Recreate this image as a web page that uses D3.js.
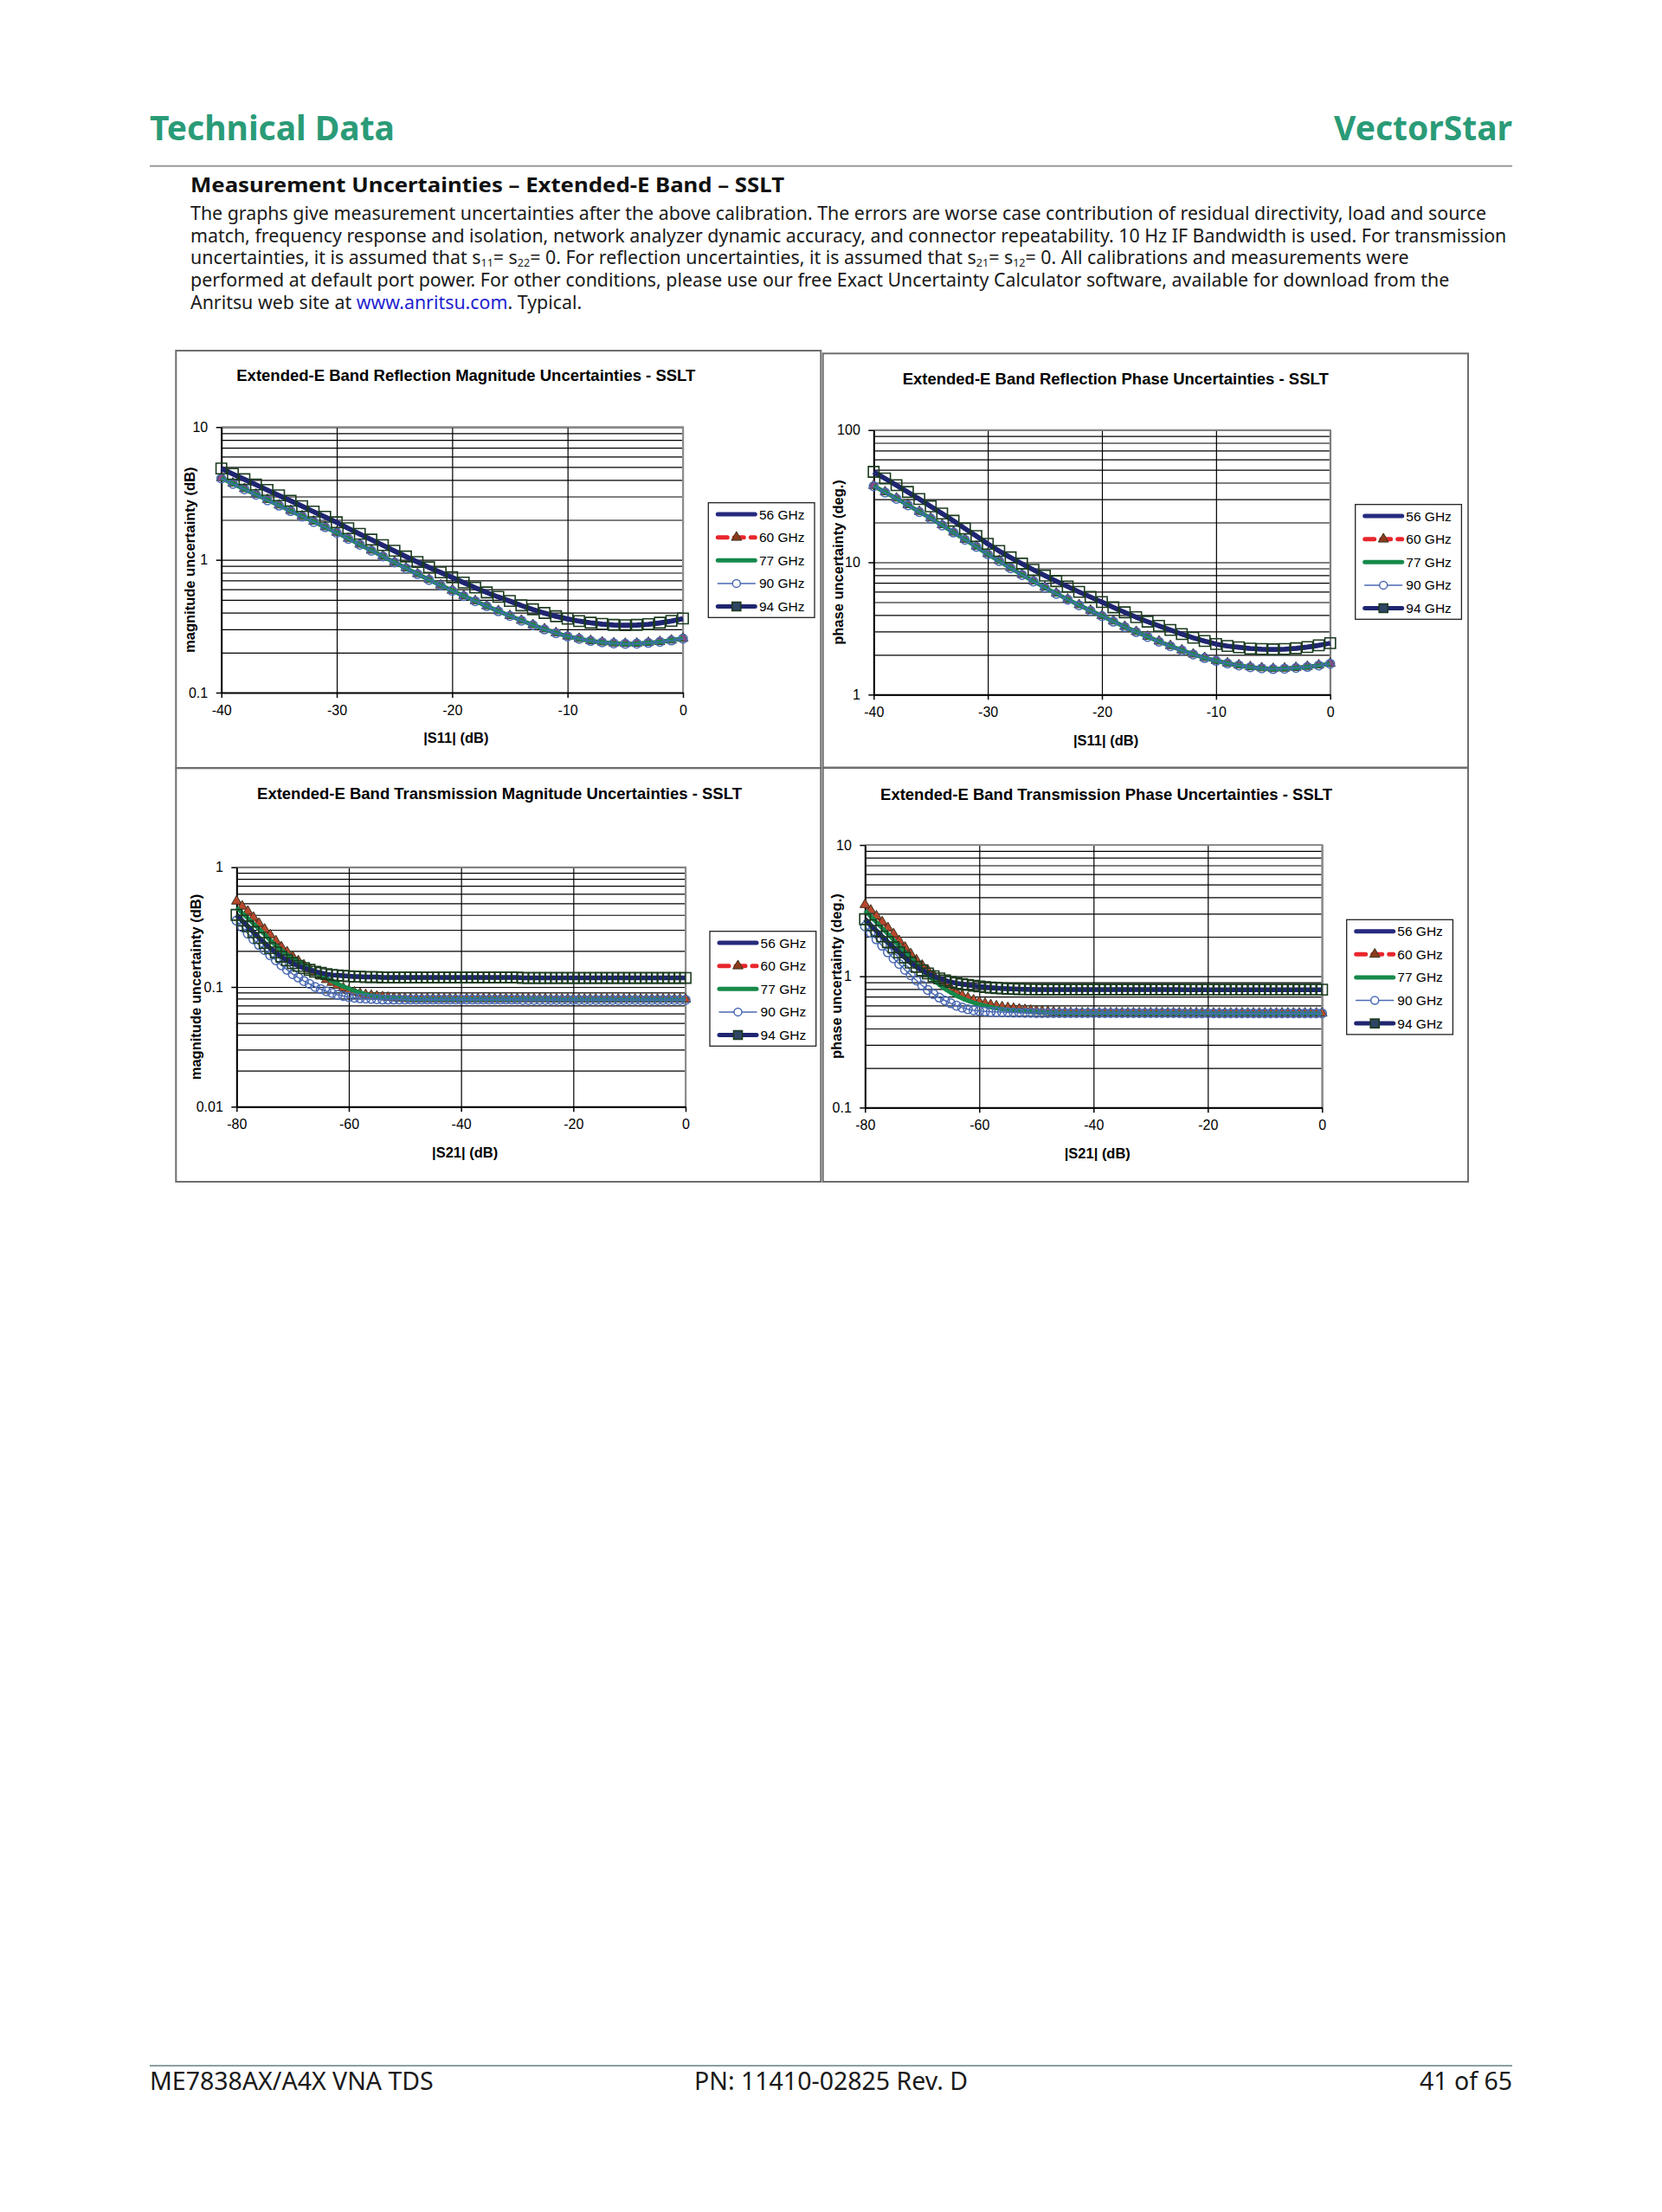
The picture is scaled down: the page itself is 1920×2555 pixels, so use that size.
<!DOCTYPE html>
<html>
<head>
<meta charset="utf-8">
<script src="https://cdn.jsdelivr.net/npm/d3@7"></script>
<style>
  body { margin: 0; background: #fff; }
  svg { display: block; }
</style>
</head>
<body>
<div id="main"></div>
<script>
// ---- data ----
const seriesNames = ["56 GHz", "60 GHz", "77 GHz", "90 GHz", "94 GHz"];

const xRefl = [-40,-39,-38,-37,-36,-35,-34,-33,-32,-31,-30,-29,-28,-27,-26,-25,-24,-23,-22,-21,
  -20,-19,-18,-17,-16,-15,-14,-13,-12,-11,-10,-9,-8,-7,-6,-5,-4,-3,-2,-1,0];

const xTrans = [-80,-79,-78,-77,-76,-75,-74,-73,-72,-71,-70,-69,-68,-67,-66,-65,-64,-63,-62,-61,
  -60,-59,-58,-57,-56,-55,-54,-53,-52,-51,-50,-49,-48,-47,-46,-45,-44,-43,-42,-41,
  -40,-39,-38,-37,-36,-35,-34,-33,-32,-31,-30,-29,-28,-27,-26,-25,-24,-23,-22,-21,
  -20,-19,-18,-17,-16,-15,-14,-13,-12,-11,-10,-9,-8,-7,-6,-5,-4,-3,-2,-1,0];

const xTicksRefl = [-40, -30, -20, -10, 0];
const xTicksTrans = [-80, -60, -40, -20, 0];

// reflection magnitude (dB)
const reflMag56 = [4.80,4.37,3.98,3.63,3.31,3.01,2.74,2.50,2.27,2.07,1.89,1.70,1.54,1.40,1.27,1.15,1.04,0.947,0.864,0.791,
  0.727,0.664,0.608,0.560,0.518,0.482,0.447,0.418,0.392,0.370,0.354,0.341,0.331,0.324,0.319,0.317,0.318,0.322,0.330,0.341,0.356];
const reflMag60 = [4.15,3.77,3.43,3.12,2.84,2.58,2.35,2.14,1.95,1.77,1.61,1.45,1.31,1.18,1.07,0.962,0.869,0.785,0.711,0.645,
  0.589,0.537,0.491,0.450,0.413,0.380,0.350,0.324,0.301,0.282,0.266,0.255,0.246,0.240,0.236,0.234,0.235,0.238,0.242,0.248,0.256];
const reflMag77 = [4.12,3.75,3.41,3.10,2.82,2.57,2.34,2.13,1.94,1.76,1.60,1.45,1.30,1.18,1.06,0.958,0.866,0.782,0.708,0.643,
  0.587,0.535,0.489,0.448,0.411,0.379,0.349,0.323,0.300,0.281,0.265,0.254,0.245,0.239,0.235,0.233,0.234,0.237,0.241,0.248,0.256];
const reflMag90 = [4.10,3.73,3.40,3.09,2.81,2.56,2.33,2.12,1.93,1.76,1.60,1.44,1.30,1.17,1.06,0.955,0.863,0.780,0.706,0.641,
  0.585,0.533,0.488,0.447,0.410,0.378,0.348,0.322,0.299,0.280,0.265,0.254,0.245,0.239,0.235,0.233,0.234,0.237,0.241,0.247,0.255];
const reflMag94 = [4.88,4.44,4.05,3.69,3.36,3.06,2.79,2.54,2.31,2.11,1.92,1.73,1.57,1.42,1.29,1.17,1.06,0.964,0.879,0.805,
  0.740,0.675,0.618,0.569,0.526,0.490,0.454,0.424,0.398,0.376,0.360,0.346,0.336,0.329,0.324,0.322,0.324,0.328,0.336,0.347,0.362];

// reflection phase (deg.)
const reflPh56 = [47.5,42.4,37.7,33.5,29.7,26.1,23.1,20.3,17.8,15.6,13.6,12.0,10.7,9.64,8.68,7.84,7.12,6.48,5.91,5.41,
  4.95,4.52,4.14,3.81,3.52,3.27,3.05,2.84,2.66,2.51,2.39,2.31,2.25,2.21,2.18,2.17,2.18,2.21,2.26,2.33,2.42];
const reflPh60 = [38.0,34.0,30.5,27.2,24.2,21.6,19.2,16.9,14.9,13.2,11.6,10.3,9.10,8.09,7.22,6.48,5.83,5.26,4.77,4.33,
  3.95,3.59,3.27,2.99,2.75,2.53,2.34,2.17,2.02,1.90,1.81,1.73,1.67,1.62,1.59,1.57,1.58,1.60,1.63,1.67,1.72];
const reflPh77 = [37.8,33.9,30.3,27.1,24.1,21.5,19.1,16.8,14.9,13.1,11.5,10.2,9.06,8.05,7.19,6.45,5.80,5.24,4.75,4.31,
  3.93,3.57,3.25,2.98,2.74,2.52,2.33,2.16,2.02,1.89,1.80,1.72,1.66,1.61,1.58,1.56,1.57,1.59,1.62,1.66,1.71];
const reflPh90 = [37.6,33.7,30.2,27.0,24.0,21.4,19.0,16.8,14.8,13.1,11.5,10.2,9.02,8.02,7.16,6.43,5.78,5.22,4.73,4.30,
  3.92,3.56,3.24,2.97,2.73,2.51,2.32,2.16,2.01,1.89,1.80,1.72,1.66,1.61,1.58,1.56,1.57,1.59,1.62,1.66,1.71];
const reflPh94 = [48.3,43.1,38.3,34.0,30.1,26.5,23.4,20.6,18.0,15.8,13.8,12.2,10.9,9.77,8.79,7.94,7.21,6.56,5.98,5.47,
  5.01,4.57,4.19,3.85,3.56,3.31,3.08,2.87,2.69,2.54,2.41,2.33,2.28,2.23,2.21,2.20,2.21,2.24,2.29,2.36,2.45];

// transmission magnitude (dB)
const transMag56 = [0.392,0.352,0.316,0.284,0.254,0.230,0.209,0.192,0.177,0.165,0.156,0.148,0.142,0.137,0.133,0.130,0.127,0.125,0.124,0.123,
  0.122,0.121,0.121,0.120,0.120,0.120,0.119,0.119,0.119,0.119,0.119,0.119,0.119,0.119,0.119,0.119,0.119,0.119,0.119,0.119,
  0.119,0.119,0.119,0.119,0.119,0.119,0.119,0.119,0.119,0.119,0.119,0.118,0.118,0.118,0.118,0.118,0.118,0.118,0.118,0.118,
  0.118,0.118,0.118,0.118,0.118,0.118,0.118,0.118,0.118,0.118,0.118,0.118,0.118,0.118,0.118,0.118,0.118,0.118,0.118,0.118,0.118];
const transMag60 = [0.520,0.472,0.428,0.381,0.339,0.303,0.272,0.242,0.215,0.196,0.179,0.165,0.152,0.141,0.132,0.123,0.115,0.109,0.103,0.098,
  0.0935,0.0905,0.088,0.086,0.0847,0.0835,0.0825,0.0817,0.081,0.0805,0.080,0.0795,0.0795,0.0795,0.0795,0.0795,0.0795,0.0795,0.0795,0.0795,
  0.0795,0.0795,0.0795,0.0795,0.0795,0.0795,0.0795,0.0795,0.0795,0.0795,0.0795,0.0795,0.0795,0.0795,0.0795,0.0795,0.079,0.079,0.079,0.079,
  0.079,0.079,0.079,0.079,0.079,0.079,0.079,0.079,0.079,0.079,0.079,0.079,0.079,0.079,0.079,0.079,0.079,0.079,0.079,0.079,0.079];
const transMag77 = [0.460,0.415,0.375,0.338,0.305,0.275,0.245,0.222,0.203,0.187,0.174,0.163,0.152,0.142,0.133,0.125,0.118,0.112,0.106,0.101,
  0.097,0.093,0.090,0.087,0.085,0.0835,0.0825,0.0815,0.081,0.0805,0.080,0.0793,0.0793,0.0793,0.0793,0.0793,0.0793,0.0793,0.0793,0.0793,
  0.0793,0.0793,0.0793,0.0793,0.0793,0.0793,0.0793,0.0793,0.0793,0.0793,0.0793,0.0793,0.0793,0.0793,0.0793,0.0793,0.0788,0.0788,0.0788,0.0788,
  0.0788,0.0788,0.0788,0.0788,0.0788,0.0788,0.0788,0.0788,0.0788,0.0788,0.0788,0.0788,0.0788,0.0788,0.0788,0.0788,0.0788,0.0788,0.0788,0.0788,0.0788];
const transMag90 = [0.358,0.316,0.279,0.250,0.224,0.203,0.184,0.167,0.152,0.139,0.128,0.120,0.112,0.106,0.100,0.096,0.092,0.089,0.086,0.084,
  0.0824,0.0813,0.0805,0.080,0.0795,0.079,0.0785,0.0785,0.0785,0.0785,0.0785,0.0785,0.0785,0.0785,0.0785,0.0785,0.0785,0.0785,0.0785,0.0785,
  0.0785,0.0785,0.0785,0.0785,0.0785,0.0785,0.0785,0.0785,0.0785,0.0785,0.0785,0.078,0.078,0.078,0.078,0.078,0.078,0.078,0.078,0.078,
  0.078,0.078,0.078,0.078,0.078,0.078,0.078,0.078,0.078,0.078,0.078,0.078,0.078,0.078,0.078,0.078,0.078,0.078,0.078,0.078,0.078];
const transMag94 = [0.400,0.358,0.321,0.288,0.257,0.233,0.211,0.194,0.179,0.167,0.158,0.150,0.144,0.139,0.134,0.131,0.128,0.126,0.125,0.124,
  0.123,0.122,0.122,0.121,0.121,0.121,0.120,0.120,0.120,0.120,0.120,0.120,0.120,0.120,0.120,0.120,0.120,0.120,0.120,0.120,
  0.120,0.120,0.120,0.120,0.120,0.120,0.120,0.120,0.120,0.120,0.120,0.119,0.119,0.119,0.119,0.119,0.119,0.119,0.119,0.119,
  0.119,0.119,0.119,0.119,0.119,0.119,0.119,0.119,0.119,0.119,0.119,0.119,0.119,0.119,0.119,0.119,0.119,0.119,0.119,0.119,0.119];

// transmission phase (deg.)
const transPh56 = [2.66,2.40,2.18,1.97,1.79,1.63,1.49,1.37,1.25,1.16,1.09,1.03,0.985,0.950,0.920,0.896,0.876,0.862,0.850,0.839,
  0.829,0.820,0.812,0.806,0.801,0.797,0.794,0.791,0.789,0.787,0.786,0.785,0.785,0.785,0.785,0.785,0.785,0.785,0.785,0.785,
  0.785,0.785,0.785,0.785,0.785,0.785,0.785,0.785,0.785,0.785,0.785,0.785,0.785,0.785,0.785,0.785,0.784,0.784,0.784,0.784,
  0.784,0.784,0.784,0.784,0.784,0.784,0.784,0.784,0.784,0.784,0.784,0.784,0.784,0.784,0.784,0.784,0.784,0.784,0.784,0.784,0.784];
const transPh60 = [3.51,3.18,2.87,2.59,2.34,2.10,1.86,1.66,1.48,1.33,1.21,1.11,1.02,0.942,0.873,0.811,0.757,0.717,0.684,0.658,
  0.637,0.620,0.605,0.593,0.584,0.576,0.569,0.562,0.556,0.550,0.545,0.541,0.537,0.534,0.531,0.529,0.527,0.525,0.525,0.525,
  0.525,0.525,0.525,0.525,0.525,0.525,0.525,0.525,0.525,0.525,0.525,0.525,0.525,0.525,0.525,0.525,0.525,0.525,0.525,0.525,
  0.525,0.523,0.523,0.523,0.523,0.523,0.523,0.523,0.523,0.523,0.523,0.523,0.523,0.523,0.523,0.523,0.523,0.523,0.523,0.523,0.523];
const transPh77 = [3.17,2.86,2.58,2.33,2.10,1.89,1.70,1.53,1.38,1.24,1.12,1.02,0.935,0.862,0.800,0.751,0.712,0.679,0.652,0.630,
  0.611,0.596,0.583,0.572,0.563,0.556,0.550,0.545,0.541,0.537,0.534,0.531,0.529,0.527,0.526,0.524,0.524,0.524,0.524,0.524,
  0.524,0.524,0.524,0.524,0.524,0.524,0.524,0.524,0.524,0.524,0.524,0.524,0.524,0.524,0.524,0.524,0.524,0.524,0.524,0.524,
  0.524,0.522,0.522,0.522,0.522,0.522,0.522,0.522,0.522,0.522,0.522,0.522,0.522,0.522,0.522,0.522,0.522,0.522,0.522,0.522,0.522];
const transPh90 = [2.40,2.14,1.91,1.71,1.52,1.37,1.24,1.12,1.02,0.930,0.851,0.786,0.731,0.688,0.653,0.623,0.597,0.577,0.561,0.551,
  0.544,0.540,0.537,0.535,0.533,0.531,0.529,0.528,0.527,0.526,0.525,0.524,0.524,0.524,0.524,0.524,0.524,0.524,0.524,0.524,
  0.524,0.524,0.524,0.524,0.524,0.524,0.524,0.524,0.524,0.524,0.524,0.524,0.524,0.524,0.524,0.524,0.522,0.522,0.522,0.522,
  0.522,0.522,0.522,0.522,0.522,0.522,0.522,0.522,0.522,0.522,0.522,0.522,0.522,0.522,0.522,0.522,0.522,0.522,0.522,0.522,0.522];
const transPh94 = [2.72,2.45,2.22,2.01,1.82,1.66,1.52,1.39,1.27,1.18,1.11,1.05,1.00,0.963,0.931,0.906,0.885,0.871,0.859,0.847,
  0.837,0.828,0.820,0.813,0.808,0.804,0.801,0.798,0.796,0.794,0.793,0.792,0.792,0.792,0.792,0.792,0.792,0.792,0.792,0.792,
  0.792,0.792,0.792,0.792,0.792,0.792,0.792,0.792,0.792,0.792,0.792,0.792,0.792,0.792,0.792,0.792,0.790,0.790,0.790,0.790,
  0.790,0.790,0.790,0.790,0.790,0.790,0.790,0.790,0.790,0.790,0.790,0.790,0.790,0.790,0.790,0.790,0.790,0.790,0.790,0.790,0.790];

// ---- page text ----
const paragraphLines = [
  [{t: "The graphs give measurement uncertainties after the above calibration. The errors are worse case contribution of residual directivity, load and source"}],
  [{t: "match, frequency response and isolation, network analyzer dynamic accuracy, and connector repeatability. 10 Hz IF Bandwidth is used. For transmission"}],
  [{t: "uncertainties, it is assumed that s"}, {t: "11", sub: true}, {t: "= s"}, {t: "22", sub: true},
   {t: "= 0. For reflection uncertainties, it is assumed that s"}, {t: "21", sub: true}, {t: "= s"}, {t: "12", sub: true},
   {t: "= 0. All calibrations and measurements were"}],
  [{t: "performed at default port power. For other conditions, please use our free Exact Uncertainty Calculator software, available for download from the"}],
  [{t: "Anritsu web site at "}, {t: "www.anritsu.com", link: true}, {t: ". Typical."}]
];

const PAGE_FONT = "'Noto Sans', 'Open Sans', sans-serif";
const CHART_FONT = "'Liberation Sans', Arial, sans-serif";

// series look, in series order (Excel draws later series on top)
const seriesStyle = [
  {color: "#262a7e", width: 4, dash: null, marker: null},
  {color: "#e8262d", width: 4, dash: "9,7", marker: "triangle"},
  {color: "#16894b", width: 5, dash: null, marker: null},
  {color: "#4a6ab3", width: 1.5, dash: null, marker: "circle"},
  {color: "#1f2670", width: 5.5, dash: null, marker: "square"}
];

const charts = [
  {
    title: "Extended-E Band Reflection Magnitude Uncertainties - SSLT",
    xLabel: "|S11| (dB)", yLabel: "magnitude uncertainty (dB)",
    xs: xRefl, series: [reflMag56, reflMag60, reflMag77, reflMag90, reflMag94],
    xDomain: [-40, 0], yDomain: [0.1, 10], xTicks: xTicksRefl,
    yTicks: [0.1, 1, 10], yTickLabels: ["0.1", "1", "10"],
    frame: [203.3, 405, 948.3, 887], plot: [255.7, 493.3, 789, 800],
    titlePos: [538.3, 440], yLabelX: 219.3, legend: [818.3, 580.7], triFill: "#8a4c8c"
  },
  {
    title: "Extended-E Band Reflection Phase Uncertainties - SSLT",
    xLabel: "|S11| (dB)", yLabel: "phase uncertainty (deg.)",
    xs: xRefl, series: [reflPh56, reflPh60, reflPh77, reflPh90, reflPh94],
    xDomain: [-40, 0], yDomain: [1, 100], xTicks: xTicksRefl,
    yTicks: [1, 10, 100], yTickLabels: ["1", "10", "100"],
    frame: [950.7, 408.3, 1696, 886.5], plot: [1009.3, 496.7, 1536.7, 802.3],
    titlePos: [1288.7, 444], yLabelX: 968.3, legend: [1565.7, 582.7], triFill: "#8a4c8c"
  },
  {
    title: "Extended-E Band Transmission Magnitude Uncertainties - SSLT",
    xLabel: "|S21| (dB)", yLabel: "magnitude uncertainty (dB)",
    xs: xTrans, series: [transMag56, transMag60, transMag77, transMag90, transMag94],
    xDomain: [-80, 0], yDomain: [0.01, 1], xTicks: xTicksTrans,
    yTicks: [0.01, 0.1, 1], yTickLabels: ["0.01", "0.1", "1"],
    frame: [203.3, 887.3, 948.3, 1365], plot: [273.3, 1001.7, 792, 1278.3],
    titlePos: [577, 923], yLabelX: 226.7, legend: [820, 1075.7], triFill: "#b8472c"
  },
  {
    title: "Extended-E Band Transmission Phase Uncertainties - SSLT",
    xLabel: "|S21| (dB)", yLabel: "phase uncertainty (deg.)",
    xs: xTrans, series: [transPh56, transPh60, transPh77, transPh90, transPh94],
    xDomain: [-80, 0], yDomain: [0.1, 10], xTicks: xTicksTrans,
    yTicks: [0.1, 1, 10], yTickLabels: ["0.1", "1", "10"],
    frame: [950.7, 887, 1696, 1365], plot: [999.3, 976, 1527.3, 1279.3],
    titlePos: [1278, 924], yLabelX: 966.7, legend: [1555.7, 1062.3], triFill: "#b8472c"
  }
];

function markerPath(type, size) {
  const sym = type === "triangle" ? d3.symbolTriangle : type === "square" ? d3.symbolSquare : d3.symbolCircle;
  return d3.symbol().type(sym).size(size)();
}

function styleMarker(sel, type, c, legend) {
  if (type === "triangle") {
    sel.attr("d", markerPath("triangle", legend ? 60 : 58))
      .attr("fill", legend ? "#8b3b1c" : c.triFill).attr("stroke", "#3a3520").attr("stroke-width", 1);
  } else if (type === "square") {
    sel.attr("d", markerPath("square", legend ? 100 : 150))
      .attr("fill", legend ? "#2f4566" : "none").attr("stroke", "#1b3b1f").attr("stroke-width", 1.6);
  } else {
    sel.attr("d", markerPath("circle", legend ? 64 : 80))
      .attr("fill", legend ? "#fff" : "none").attr("stroke", "#4a6ab3").attr("stroke-width", 1.5);
  }
}

function drawChart(svg, c) {
  const g = svg.append("g");
  const [px0, py0, px1, py1] = c.plot;

  // outer frame
  g.append("rect")
    .attr("x", c.frame[0]).attr("y", c.frame[1])
    .attr("width", c.frame[2] - c.frame[0]).attr("height", c.frame[3] - c.frame[1])
    .attr("fill", "none").attr("stroke", "#6e6e6e").attr("stroke-width", 2);

  const x = d3.scaleLinear().domain(c.xDomain).range([px0, px1]);
  const y = d3.scaleLog().domain(c.yDomain).range([py1, py0]);

  // horizontal gridlines on every log step
  g.append("g")
    .attr("transform", `translate(${px0},0)`)
    .call(d3.axisLeft(y).tickValues(y.ticks()).tickSize(-(px1 - px0)).tickFormat(""))
    .call(s => {
      s.select(".domain").remove();
      s.selectAll("line").attr("stroke", "#000").attr("stroke-width", 1.2);
    });

  // vertical gridlines
  g.append("g")
    .attr("transform", `translate(0,${py1})`)
    .call(d3.axisBottom(x).tickValues(c.xTicks).tickSize(-(py1 - py0)).tickFormat(""))
    .call(s => {
      s.select(".domain").remove();
      s.selectAll("line").attr("stroke", "#000").attr("stroke-width", 1.2);
    });

  // gray top / right border of the plot area
  g.append("path")
    .attr("d", `M${px0},${py0}H${px1}V${py1}`)
    .attr("fill", "none").attr("stroke", "#8c8c8c").attr("stroke-width", 2);

  // axes
  g.append("g")
    .attr("transform", `translate(${px0},0)`)
    .call(d3.axisLeft(y).tickValues(c.yTicks).tickSize(6).tickSizeOuter(0).tickPadding(9.5)
      .tickFormat(d => c.yTickLabels[c.yTicks.indexOf(d)]))
    .attr("font-family", CHART_FONT).attr("font-size", 16)
    .call(s => {
      s.select(".domain").attr("stroke", "#000").attr("stroke-width", 2);
      s.selectAll(".tick line").attr("stroke", "#000").attr("stroke-width", 1.5);
      s.selectAll(".tick text").attr("fill", "#000");
    });

  g.append("g")
    .attr("transform", `translate(0,${py1})`)
    .call(d3.axisBottom(x).tickValues(c.xTicks).tickSize(6).tickSizeOuter(0).tickPadding(8.6))
    .attr("font-family", CHART_FONT).attr("font-size", 16)
    .call(s => {
      s.select(".domain").attr("stroke", "#000").attr("stroke-width", 2);
      s.selectAll(".tick line").attr("stroke", "#000").attr("stroke-width", 1.5);
      s.selectAll(".tick text").attr("fill", "#000").text(d => d3.format("d")(d).replace("−", "-"));
    });

  // titles
  g.append("text")
    .attr("x", c.titlePos[0]).attr("y", c.titlePos[1])
    .attr("text-anchor", "middle")
    .attr("font-family", CHART_FONT).attr("font-weight", 700).attr("font-size", 18.5)
    .text(c.title);

  g.append("text")
    .attr("x", (px0 + px1) / 2 + 4.5).attr("y", py1 + 58.3)
    .attr("text-anchor", "middle")
    .attr("font-family", CHART_FONT).attr("font-weight", 700).attr("font-size", 16.5)
    .text(c.xLabel);

  g.append("text")
    .attr("transform", `translate(${c.yLabelX},${(py0 + py1) / 2}) rotate(-90)`)
    .attr("text-anchor", "middle").attr("dy", "0.35em")
    .attr("font-family", CHART_FONT).attr("font-weight", 700).attr("font-size", 16.5)
    .text(c.yLabel);

  // series
  const line = d3.line().x(d => x(d[0])).y(d => y(d[1]));
  c.series.forEach((vals, i) => {
    const st = seriesStyle[i];
    const pts = vals.map((v, k) => [c.xs[k], v]);
    const path = g.append("path")
      .attr("d", line(pts))
      .attr("fill", "none").attr("stroke", st.color).attr("stroke-width", st.width)
      .attr("stroke-linejoin", "round");
    if (st.dash) path.attr("stroke-dasharray", st.dash).attr("stroke-linecap", "round");
    if (st.marker) {
      g.append("g").selectAll("path")
        .data(pts).enter().append("path")
        .attr("transform", d => `translate(${x(d[0])},${y(d[1])})`)
        .call(s => styleMarker(s, st.marker, c, false));
    }
  });

  // legend
  const lg = g.append("g").attr("transform", `translate(${c.legend[0]},${c.legend[1]})`);
  lg.append("rect")
    .attr("width", 122.7).attr("height", 132.6)
    .attr("fill", "#fff").attr("stroke", "#222").attr("stroke-width", 1.3);
  seriesNames.forEach((name, i) => {
    const st = seriesStyle[i];
    const yy = 13.4 + i * 26.6;
    const ln = lg.append("line")
      .attr("x1", 11).attr("x2", 54).attr("y1", yy).attr("y2", yy)
      .attr("stroke", st.color).attr("stroke-linecap", "round")
      .attr("stroke-width", st.marker === "circle" ? 1.5 : 5);
    if (st.dash) ln.attr("stroke-dasharray", "11,8");
    if (st.marker) {
      lg.append("path").attr("transform", `translate(32.5,${yy})`)
        .call(s => styleMarker(s, st.marker, c, true));
    }
    lg.append("text")
      .attr("x", 58.6).attr("y", yy).attr("dy", "0.35em")
      .attr("font-family", CHART_FONT).attr("font-size", 15.5)
      .text(name);
  });
}

function createPage() {
  d3.select("#main svg").remove();
  const W = 1920, H = 2555;
  const svg = d3.select("#main").append("svg").attr("width", W).attr("height", H);
  svg.append("rect").attr("width", W).attr("height", H).attr("fill", "#fff");

  // header
  svg.append("text").attr("x", 173).attr("y", 162)
    .attr("font-family", PAGE_FONT).attr("font-weight", 700).attr("font-size", 39)
    .attr("fill", "#2a9b77").text("Technical Data");
  svg.append("text").attr("x", 1747).attr("y", 162).attr("text-anchor", "end")
    .attr("font-family", PAGE_FONT).attr("font-weight", 700).attr("font-size", 39)
    .attr("fill", "#2a9b77").text("VectorStar");
  svg.append("line").attr("x1", 173).attr("x2", 1747).attr("y1", 191.7).attr("y2", 191.7)
    .attr("stroke", "#9a9a9a").attr("stroke-width", 2);

  svg.append("text").attr("x", 220).attr("y", 221.7)
    .attr("font-family", PAGE_FONT).attr("font-weight", 700).attr("font-size", 24)
    .attr("textLength", 686).attr("lengthAdjust", "spacingAndGlyphs")
    .attr("fill", "#111").text("Measurement Uncertainties \u2013 Extended-E Band \u2013 SSLT");

  // body paragraph, one text per printed line
  const para = svg.append("g").attr("font-family", PAGE_FONT).attr("fill", "#1a1a1a");
  const baselines = [254, 279.7, 305.2, 330.8, 356.5];
  const lineNodes = paragraphLines.map((segs, i) => {
    const t = para.append("text").attr("x", 220).attr("y", baselines[i]).attr("font-size", 19.5);
    segs.forEach(sg => {
      const ts = t.append("tspan").text(sg.t);
      if (sg.sub) ts.attr("font-size", 12.5).attr("baseline-shift", "-3");
      if (sg.link) ts.attr("fill", "#1f1fd0");
    });
    return t;
  });
  // fit the font size so the longest line spans the same width as the page
  const w2 = lineNodes[1].node().getComputedTextLength();
  const fs = 19.5 * 1521 / w2;
  lineNodes.forEach(t => t.attr("font-size", fs));

  charts.forEach(c => drawChart(svg, c));

  // footer
  svg.append("line").attr("x1", 173).attr("x2", 1747).attr("y1", 2386).attr("y2", 2386)
    .attr("stroke", "#8aa0a0").attr("stroke-width", 2);
  const foot = svg.append("g").attr("font-family", PAGE_FONT).attr("font-size", 28.5).attr("fill", "#1a1a1a");
  foot.append("text").attr("x", 173).attr("y", 2414).text("ME7838AX/A4X VNA TDS");
  foot.append("text").attr("x", 960).attr("y", 2414).attr("text-anchor", "middle").text("PN: 11410-02825 Rev. D");
  foot.append("text").attr("x", 1747).attr("y", 2414).attr("text-anchor", "end").text("41 of 65");
}

document.addEventListener("DOMContentLoaded", function() {
  createPage();
});
</script>
</body>
</html>
